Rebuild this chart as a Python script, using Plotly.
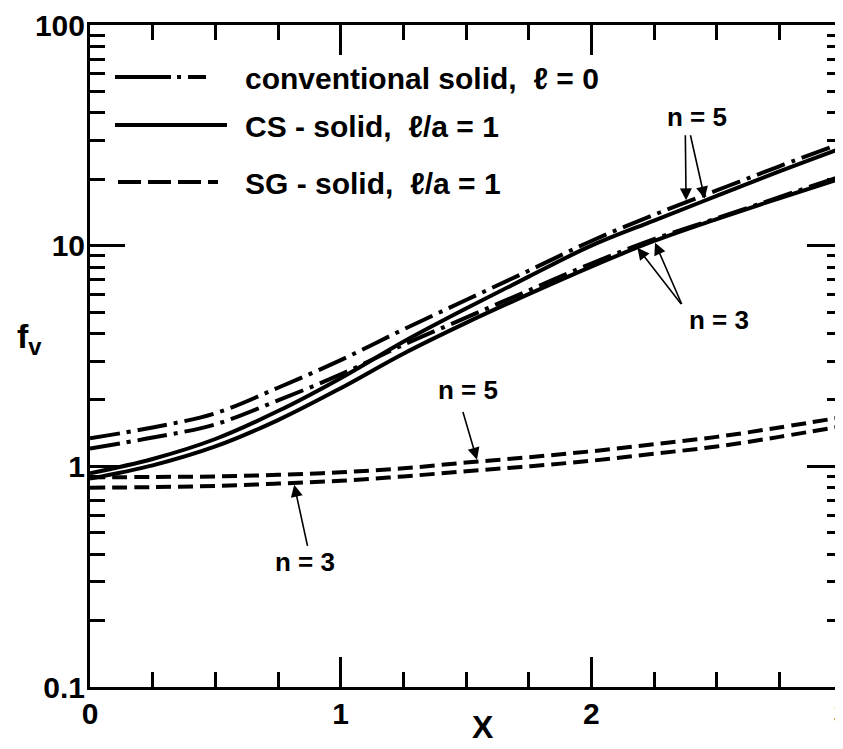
import numpy as np
import plotly.graph_objects as go

# ---------------- data ----------------
X = [0.0, 0.25, 0.5, 0.75, 1.0, 1.25, 1.5, 1.75, 2.0, 2.25, 2.5, 2.75, 3.0]

conv_n5 = [1.34, 1.50, 1.74, 2.27, 3.03, 4.17, 5.67, 7.7, 10.5, 13.8, 17.8, 22.9, 29.2]
conv_n3 = [1.205, 1.35, 1.55, 1.99, 2.61, 3.55, 4.72, 6.27, 8.3, 10.7, 13.3, 16.6, 20.7]
cs_n5 = [0.93, 1.08, 1.33, 1.78, 2.51, 3.67, 5.19, 7.24, 10.0, 13.0, 16.8, 21.7, 27.7]
cs_n3 = [0.88, 1.01, 1.23, 1.62, 2.26, 3.24, 4.47, 6.03, 8.04, 10.5, 13.2, 16.4, 20.2]
sg_n5 = [0.89, 0.895, 0.90, 0.915, 0.94, 0.98, 1.04, 1.10, 1.17, 1.26, 1.36, 1.50, 1.67]
sg_n3 = [0.80, 0.805, 0.815, 0.835, 0.86, 0.90, 0.95, 1.00, 1.06, 1.14, 1.23, 1.36, 1.52]

y_tickvals = [0.1, 1, 10, 100]
y_ticktext = ["0.1", "1", "10", "100"]
x_tickvals = [0, 1, 2, 3]
x_ticktext = ["0", "1", "2", "3"]

legend_labels = ["conventional solid,  \u2113 = 0",
                 "CS - solid,  \u2113/a = 1",
                 "SG - solid,  \u2113/a = 1"]

# ---------------- styles ----------------
DASHDOT = "30px,7px,4px,7px"
DASHED = "15px,7px"
LW = 4

series = [
    (conv_n5, DASHDOT), (conv_n3, DASHDOT),
    (cs_n5, "solid"), (cs_n3, "solid"),
    (sg_n5, DASHED), (sg_n3, DASHED),
]

fig = go.Figure()
for ys, dash in series:
    fig.add_trace(go.Scatter(x=X, y=ys, mode="lines", showlegend=False,
                             line=dict(color="black", width=LW, dash=dash,
                                       shape="spline", smoothing=1.0)))

# the page body adds an 8px margin, so the figure is 8px smaller and every
# position is taken in screen pixels of the reference
OFF = 8
W, H = 843 - OFF, 749 - OFF
ML, MR, MT, MB = 90 - OFF, 1, 25 - OFF, 62
PW, PH = W - ML - MR, H - MT - MB


def px2paper(px, py):
    # px, py in screen pixels of the reference picture
    return (px - 90) / PW, (687 - py) / PH


tickfont = dict(family="Liberation Sans, Arial", size=30, color="black", weight="bold")

fig.update_xaxes(range=[0, 3], tickvals=x_tickvals, ticktext=x_ticktext,
                 ticks="inside", ticklen=30, tickwidth=2.5, tickcolor="black",
                 minor=dict(dtick=0.25, ticks="inside", ticklen=15, tickwidth=2.5,
                            tickcolor="black", showgrid=False),
                 showline=True, linewidth=3, linecolor="black", mirror="allticks",
                 showgrid=False, zeroline=False, tickfont=tickfont,
                 ticklabelstandoff=-2, ticklabeloverflow="allow", automargin=False)
fig.update_yaxes(type="log", range=[-1, 2], tickvals=y_tickvals, ticktext=y_ticktext,
                 ticks="inside", ticklen=35, tickwidth=2.5, tickcolor="black",
                 minor=dict(dtick="D1", ticks="inside", ticklen=15, tickwidth=2.5,
                            tickcolor="black", showgrid=False),
                 showline=True, linewidth=3, linecolor="black", mirror="allticks",
                 showgrid=False, zeroline=False, tickfont=tickfont,
                 ticklabelstandoff=-4, ticklabeloverflow="allow", automargin=False)

# ---------------- legend drawn inside the plot ----------------
legend_rows = [(77, "56px,6px,4px,7px,18px,300px", 115, 207),
               (125, "solid", 115, 227),
               (182, "23px,7px", 118, 218)]
for (py, dash, x0, x1), label in zip(legend_rows, legend_labels):
    a0, b0 = px2paper(x0, py)
    a1, _ = px2paper(x1, py)
    fig.add_shape(type="line", xref="paper", yref="paper", x0=a0, x1=a1, y0=b0, y1=b0,
                  line=dict(color="black", width=LW, dash=dash))
    tx, ty = px2paper(243, py + 1)
    fig.add_annotation(xref="paper", yref="paper", x=tx, y=ty, text=label,
                       showarrow=False, xanchor="left", yanchor="middle",
                       font=dict(family="Liberation Sans, Arial", size=30,
                                 color="black", weight="bold"))

# ---------------- n labels and arrows ----------------
LX = np.array(X)


def on_curve(ys, x):
    return float(np.interp(x, LX, np.log10(ys)))


labfont = dict(family="Liberation Sans, Arial", size=26, color="black", weight="bold")
labels = [(2.42, 1.584, "n = 5"), (2.51, 0.661, "n = 3"),
          (1.506, 0.344, "n = 5"), (0.857, -0.434, "n = 3")]
for x, ly, t in labels:
    fig.add_annotation(x=x, y=ly, text=t, showarrow=False, font=labfont,
                       xanchor="center", yanchor="middle")

arrows = [((2.375, 1.507), (2.378, conv_n5)),
          ((2.394, 1.507), (2.454, cs_n5)),
          ((2.363, 0.729), (2.179, conv_n3)),
          ((2.363, 0.729), (2.251, cs_n3)),
          ((1.486, 0.253), (1.546, sg_n5)),
          ((0.869, -0.367), (0.813, sg_n3))]
for (tx, ty), (hx, curve) in arrows:
    fig.add_annotation(x=hx, y=on_curve(curve, hx), ax=tx, ay=ty,
                       axref="x", ayref="y", text="", showarrow=True,
                       arrowhead=2, arrowsize=1.5, arrowwidth=1.6,
                       arrowcolor="black", standoff=2)

# ---------------- axis titles ----------------
fx, fy = px2paper(29, 338)
fig.add_annotation(xref="paper", yref="paper", x=fx, y=fy, text="f<sub>v</sub>",
                   showarrow=False, xanchor="center", yanchor="middle",
                   font=dict(family="Liberation Sans, Arial", size=34,
                             color="black", weight="bold"))
gx, gy = px2paper(483, 727)
fig.add_annotation(xref="paper", yref="paper", x=gx, y=gy, text="X",
                   showarrow=False, xanchor="center", yanchor="middle",
                   font=dict(family="Liberation Sans Narrow, Liberation Sans, Arial",
                             size=32, color="black", weight="bold"))

fig.update_layout(width=W, height=H, margin=dict(l=ML, r=MR, t=MT, b=MB),
                  plot_bgcolor="white", paper_bgcolor="white", showlegend=False)

fig.write_html("out.html")
